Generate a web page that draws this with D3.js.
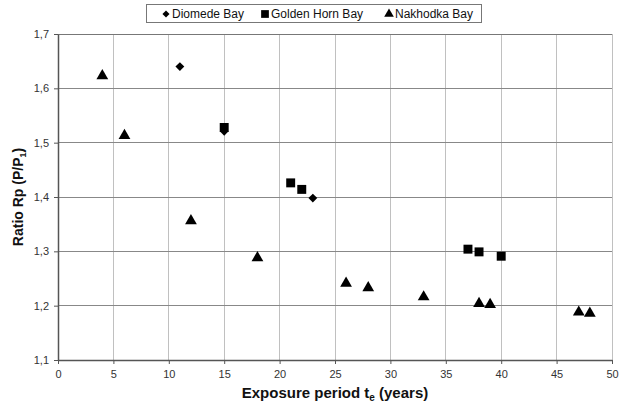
<!DOCTYPE html>
<html>
<head>
<meta charset="utf-8">
<script src="https://cdn.jsdelivr.net/npm/d3@7"></script>
<style>
  body { margin: 0; background: #fff; }
  svg text { font-family: "Liberation Sans", Arial, sans-serif; }
</style>
</head>
<body>
<div id="main"></div>
<script>
const ctx = {
    w: 619,
    h: 405,
    left: 58,
    right: 612,
    top: 34,
    bottom: 360,
};

// series: [exposure years, ratio]
const diomede = [[11, 1.640], [15, 1.521], [23, 1.398]];
const goldenHorn = [[15, 1.528], [21, 1.426], [22, 1.414], [37, 1.304], [38, 1.299], [40, 1.291]];
const nakhodka = [[4, 1.623], [6, 1.513], [12, 1.356], [18, 1.288], [26, 1.241], [28, 1.233],
                  [33, 1.216], [38, 1.204], [39, 1.202], [47, 1.188], [48, 1.186]];

const xTicks = [0, 5, 10, 15, 20, 25, 30, 35, 40, 45, 50];
const yTicks = [1.1, 1.2, 1.3, 1.4, 1.5, 1.6, 1.7];

const seriesNames = ["Diomede Bay", "Golden Horn Bay", "Nakhodka Bay"];

const x = d3.scaleLinear().domain([0, 50]).range([ctx.left, ctx.right]);
const y = d3.scaleLinear().domain([1.1, 1.7]).range([ctx.bottom, ctx.top]);

const fmt = (v) => (d3.format(".1f")(v).replace(".", ","));

const symDiamond = d3.symbol().type(d3.symbolDiamond2).size(50);
const symSquare = d3.symbol().type(d3.symbolSquare).size(80);
const symTriangle = d3.symbol().type(d3.symbolTriangle).size(60);

function createViz(){
    let svg = d3.select("#main").append("svg")
                .attr("width", ctx.w)
                .attr("height", ctx.h);

    // gridlines
    svg.append("g").selectAll("line")
       .data(xTicks.slice(1))
       .enter().append("line")
       .attr("x1", (d) => x(d)).attr("x2", (d) => x(d))
       .attr("y1", ctx.top).attr("y2", ctx.bottom)
       .attr("stroke", "#c0c0c0").attr("stroke-width", 1)
       .attr("shape-rendering", "crispEdges");
    svg.append("g").selectAll("line")
       .data(yTicks.slice(1))
       .enter().append("line")
       .attr("x1", ctx.left).attr("x2", ctx.right)
       .attr("y1", (d) => y(d)).attr("y2", (d) => y(d))
       .attr("stroke", (d) => (d === 1.7 ? "#777" : "#888")).attr("stroke-width", 1)
       .attr("shape-rendering", "crispEdges");

    // axes
    let xAxis = svg.append("g")
                   .attr("transform", `translate(0,${ctx.bottom})`)
                   .call(d3.axisBottom(x).tickValues(xTicks).tickSize(4).tickSizeOuter(0).tickPadding(6));
    let yAxis = svg.append("g")
                   .attr("transform", `translate(${ctx.left},0)`)
                   .call(d3.axisLeft(y).tickValues(yTicks).tickFormat(fmt).tickSize(4).tickSizeOuter(0).tickPadding(5));
    [xAxis, yAxis].forEach(function(a){
        a.select(".domain").attr("stroke", "#555").attr("stroke-width", 1.5);
        a.selectAll(".tick line").attr("stroke", "#555");
        a.selectAll("text").attr("font-size", 11).attr("fill", "#333")
         .attr("font-family", "'Liberation Sans', Arial, sans-serif");
    });

    // axis titles
    let xt = svg.append("text")
                .attr("x", 335).attr("y", 398)
                .attr("text-anchor", "middle")
                .attr("font-size", 15).attr("font-weight", "bold").attr("fill", "#111");
    xt.append("tspan").text("Exposure period t");
    xt.append("tspan").attr("font-size", 10).attr("dy", 3).text("e");
    xt.append("tspan").attr("dy", -3).text(" (years)");

    let yt = svg.append("text")
                .attr("transform", "translate(23,197) rotate(-90)")
                .attr("text-anchor", "middle")
                .attr("font-size", 14).attr("font-weight", "bold").attr("fill", "#111");
    yt.append("tspan").text("Ratio Rp (P/P");
    yt.append("tspan").attr("font-size", 9).attr("dy", 3).text("1");
    yt.append("tspan").attr("dy", -3).text(")");

    // markers
    let marks = svg.append("g").attr("id", "marks");
    marks.selectAll(".dio").data(diomede).enter().append("path")
         .attr("d", symDiamond)
         .attr("transform", (d) => `translate(${x(d[0])},${y(d[1])})`)
         .attr("fill", "#000");
    marks.selectAll(".gh").data(goldenHorn).enter().append("path")
         .attr("d", symSquare)
         .attr("transform", (d) => `translate(${x(d[0])},${y(d[1])})`)
         .attr("fill", "#000");
    marks.selectAll(".nk").data(nakhodka).enter().append("path")
         .attr("d", symTriangle)
         .attr("transform", (d) => `translate(${x(d[0])},${y(d[1])})`)
         .attr("fill", "#000");

    // legend
    let lg = svg.append("g").attr("id", "legend");
    lg.append("rect")
      .attr("x", 146.5).attr("y", 4.5).attr("width", 335).attr("height", 18)
      .attr("fill", "#fff").attr("stroke", "#777");
    let legendItems = [
        {name: seriesNames[0], sym: d3.symbol().type(d3.symbolDiamond2).size(32), x: 166},
        {name: seriesNames[1], sym: d3.symbol().type(d3.symbolSquare).size(60), x: 265},
        {name: seriesNames[2], sym: d3.symbol().type(d3.symbolTriangle).size(40), x: 389},
    ];
    legendItems.forEach(function(it){
        lg.append("path").attr("d", it.sym)
          .attr("transform", `translate(${it.x},14)`).attr("fill", "#000");
        lg.append("text").attr("x", it.x + 6).attr("y", 18)
          .attr("font-size", 12).attr("fill", "#111").text(it.name);
    });
}

createViz();
</script>
</body>
</html>
